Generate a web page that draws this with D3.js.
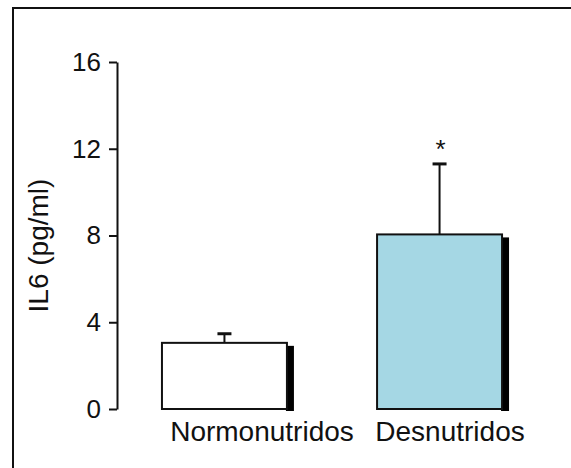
<!DOCTYPE html>
<html lang="en">
<head>
    <meta charset="UTF-8">
    <title>IL6</title>
    <style type="text/css">
        * {
            margin: 0;
            padding: 0;
        }
        body {
            background: white;
        }
        svg text {
            font-family: "Liberation Sans", Arial, sans-serif;
        }
    </style>
</head>
<body>
<div id="chart-area"></div>
<script src="https://cdn.jsdelivr.net/npm/d3@7"></script>
<script type="text/javascript">
    const groups = ['Normonutridos', 'Desnutridos']
    const means = [3.05, 8.05]
    const errs = [0.42, 3.25]
    const marks = ['', '*']
    const fills = ['#ffffff', '#a5d7e4']
    const yTicks = [0, 4, 8, 12, 16]

    const width = 571
    const height = 468

    const svg = d3.select('#chart-area').append('svg')
    .attr('width', width)
    .attr('height', height)
    .style('background-color', 'white')

    // outer frame (runs off the right and bottom of the picture)
    svg.append('path')
    .attr('d', 'M13,480 L13,8 L580,8')
    .attr('fill', 'none')
    .attr('stroke', '#111')
    .attr('stroke-width', 2)

    const defs = svg.append('defs')
    defs.append('filter').attr('id', 'blur')
    .append('feGaussianBlur').attr('stdDeviation', 0.6)

    const y = d3.scaleLinear()
    .domain([0, 16])
    .range([409, 62])

    const x = d3.scaleBand()
    .domain(groups)
    .range([117, 547])
    .paddingInner(0.419)
    .paddingOuter(0.209)

    const yAxis = svg.append('g')
    .attr('transform', 'translate(117,0)')
    .call(d3.axisLeft(y).tickValues(yTicks).tickSize(8).tickPadding(8).tickSizeOuter(0))
    yAxis.select('.domain').attr('stroke', '#111').attr('stroke-width', 2)
    yAxis.selectAll('.tick line').attr('stroke', '#111').attr('stroke-width', 2)
    yAxis.selectAll('.tick text')
    .attr('font-size', 26)
    .attr('fill', '#111')
    .attr('font-family', '"Liberation Sans", Arial, sans-serif')

    svg.append('text')
    .attr('transform', 'translate(48,' + (y(8) + 10) + ') rotate(-90)')
    .attr('text-anchor', 'middle')
    .attr('font-size', 28)
    .attr('fill', '#111')
    .text('IL6 (pg/ml)')

    const bars = svg.selectAll('.bar').data(groups).enter().append('g')
    .attr('class', 'bar')

    // error bars behind the bars
    bars.append('line')
    .attr('x1', d => x(d) + x.bandwidth() / 2)
    .attr('x2', d => x(d) + x.bandwidth() / 2)
    .attr('y1', (d, i) => y(means[i]))
    .attr('y2', (d, i) => y(means[i] + errs[i]))
    .attr('stroke', '#111')
    .attr('stroke-width', 2)
    bars.append('line')
    .attr('x1', d => x(d) + x.bandwidth() / 2 - 7)
    .attr('x2', d => x(d) + x.bandwidth() / 2 + 7)
    .attr('y1', (d, i) => y(means[i] + errs[i]))
    .attr('y2', (d, i) => y(means[i] + errs[i]))
    .attr('stroke', '#111')
    .attr('stroke-width', 3)

    // shadow
    bars.append('rect')
    .attr('x', d => x(d) + x.bandwidth() - 1)
    .attr('y', (d, i) => y(means[i]) + 3)
    .attr('width', 8)
    .attr('height', (d, i) => y(0) - y(means[i]) - 1)
    .attr('fill', '#000')
    .attr('filter', 'url(#blur)')

    bars.append('rect')
    .attr('x', d => x(d))
    .attr('y', (d, i) => y(means[i]))
    .attr('width', x.bandwidth())
    .attr('height', (d, i) => y(0) - y(means[i]))
    .attr('fill', (d, i) => fills[i])
    .attr('stroke', '#111')
    .attr('stroke-width', 2)

    bars.append('text')
    .attr('x', d => x(d) + x.bandwidth() / 2 + 1)
    .attr('y', (d, i) => y(means[i] + errs[i]) - 6)
    .attr('text-anchor', 'middle')
    .attr('font-size', 26)
    .attr('fill', '#111')
    .text((d, i) => marks[i])

    // category labels
    svg.selectAll('.cat').data(groups).enter().append('text')
    .attr('class', 'cat')
    .attr('x', (d, i) => i === 0 ? 262 : 450)
    .attr('y', 441)
    .attr('text-anchor', 'middle')
    .attr('font-size', 28)
    .attr('fill', '#111')
    .text(d => d)
</script>
</body>
</html>
